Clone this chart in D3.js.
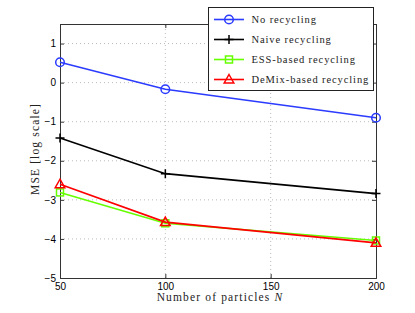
<!DOCTYPE html>
<html><head><meta charset="utf-8">
<script src="https://cdn.jsdelivr.net/npm/d3@7"></script>
<style>
body{margin:0;background:#fff;}
svg{display:block;}
.tick text{font-family:"Liberation Sans",Arial,sans-serif;font-size:10px;fill:#000;}
.lab{font-family:"Liberation Serif","DejaVu Serif",serif;font-size:10.5px;letter-spacing:0.9px;fill:#222;}
.axlab{font-family:"Liberation Serif","DejaVu Serif",serif;font-size:11.5px;letter-spacing:1.15px;fill:#222;}
</style></head>
<body>
<script>
const particles = [50, 100, 200];
const xTicks = [50, 100, 150, 200];
const yTicks = [-5, -4, -3, -2, -1, 0, 1];
const noRecycling = [0.52, -0.17, -0.90];
const naiveRecycling = [-1.42, -2.33, -2.84];
const essRecycling = [-2.81, -3.60, -4.04];
const demixRecycling = [-2.60, -3.57, -4.10];
const seriesNames = ["No recycling", "Naive recycling", "ESS-based recycling", "DeMix-based recycling"];
const seriesColors = ["#2b3bff", "#000000", "#66ff00", "#ff0000"];
const seriesMarkers = ["circle", "plus", "square", "triangle"];
const seriesValues = [noRecycling, naiveRecycling, essRecycling, demixRecycling];

const W = 415, H = 313;
const m = {l: 60, r: 39, t: 24, b: 35};
const svg = d3.select("body").append("svg").attr("width", W).attr("height", H);
const x = d3.scaleLinear().domain([50, 200]).range([m.l, W - m.r]);
const y = d3.scaleLinear().domain([-5, 1.5]).range([H - m.b, m.t]);

// grid
const g = svg.append("g");
g.selectAll(".vg").data([100, 150]).enter().append("line")
  .attr("x1", d => x(d)).attr("x2", d => x(d)).attr("y1", y(-5)).attr("y2", y(1.5))
  .attr("stroke", "#aaa").attr("stroke-width", 0.8).attr("stroke-dasharray", "1,3");
g.selectAll(".hg").data([-4, -3, -2, -1, 0, 1]).enter().append("line")
  .attr("x1", x(50)).attr("x2", x(200)).attr("y1", d => y(d)).attr("y2", d => y(d))
  .attr("stroke", "#aaa").attr("stroke-width", 0.8).attr("stroke-dasharray", "1,3");

// axes
const ax = svg.append("g").attr("transform", `translate(0,${y(-5)})`)
  .call(d3.axisBottom(x).tickValues(xTicks).tickSize(-4).tickPadding(4.5).tickFormat(d3.format("d")));
const ay = svg.append("g").attr("transform", `translate(${x(50)},0)`)
  .call(d3.axisLeft(y).tickValues(yTicks).tickSize(-4).tickPadding(4).tickFormat(d => d < 0 ? "\u2212" + Math.abs(d) : d));
const axT = svg.append("g").attr("transform", `translate(0,${y(1.5)})`)
  .call(d3.axisTop(x).tickValues(xTicks).tickSize(-4).tickFormat(""));
const ayR = svg.append("g").attr("transform", `translate(${x(200)},0)`)
  .call(d3.axisRight(y).tickValues(yTicks).tickSize(-4).tickFormat(""));
[ax, ay, axT, ayR].forEach(a => {
  a.select(".domain").attr("stroke", "#333").attr("stroke-width", 1);
  a.selectAll(".tick line").attr("stroke", "#333");
});

// lines
const line = d3.line().x((d, i) => x(particles[i])).y(d => y(d));
function marker(sel, type, color, cx, cy) {
  if (type === "circle") sel.append("circle").attr("cx", cx).attr("cy", cy).attr("r", 4.3)
    .attr("fill", "none").attr("stroke", color).attr("stroke-width", 1.5);
  else if (type === "plus") sel.append("path").attr("d", `M${cx-4.5},${cy}H${cx+4.5}M${cx},${cy-4.5}V${cy+4.5}`)
    .attr("stroke", color).attr("stroke-width", 1.5);
  else if (type === "square") sel.append("rect").attr("x", cx-3.5).attr("y", cy-3.5).attr("width", 7).attr("height", 7)
    .attr("fill", "none").attr("stroke", color).attr("stroke-width", 1.5);
  else if (type === "triangle") sel.append("path").attr("d", `M${cx},${cy-5}L${cx+4.8},${cy+3.5}L${cx-4.8},${cy+3.5}Z`)
    .attr("fill", "none").attr("stroke", color).attr("stroke-width", 1.5);
}
seriesValues.forEach((vals, k) => {
  const sg = svg.append("g");
  sg.append("path").datum(vals).attr("d", line).attr("fill", "none")
    .attr("stroke", seriesColors[k]).attr("stroke-width", 1.6);
  vals.forEach((v, i) => marker(sg, seriesMarkers[k], seriesColors[k], x(particles[i]), y(v)));
});

// legend
const lg = svg.append("g");
lg.append("rect").attr("x", 208.5).attr("y", 7.5).attr("width", 165).attr("height", 83)
  .attr("fill", "#fff").attr("stroke", "#222").attr("stroke-width", 1);
seriesNames.forEach((n, k) => {
  const yy = 19.5 + k * 20;
  lg.append("line").attr("x1", 214).attr("x2", 244).attr("y1", yy).attr("y2", yy)
    .attr("stroke", seriesColors[k]).attr("stroke-width", 1.6);
  marker(lg, seriesMarkers[k], seriesColors[k], 229, yy);
  lg.append("text").attr("class", "lab").attr("x", 251.5).attr("y", yy + 3.5).text(n);
});

// axis labels
svg.append("text").attr("class", "axlab").attr("text-anchor", "middle")
  .attr("x", 220).attr("y", 301).html('Number of particles <tspan font-style="italic">N</tspan>');
svg.append("text").attr("class", "axlab").attr("text-anchor", "middle")
  .attr("transform", `translate(39,149) rotate(-90)`).text("MSE [log scale]");
</script>
</body></html>
